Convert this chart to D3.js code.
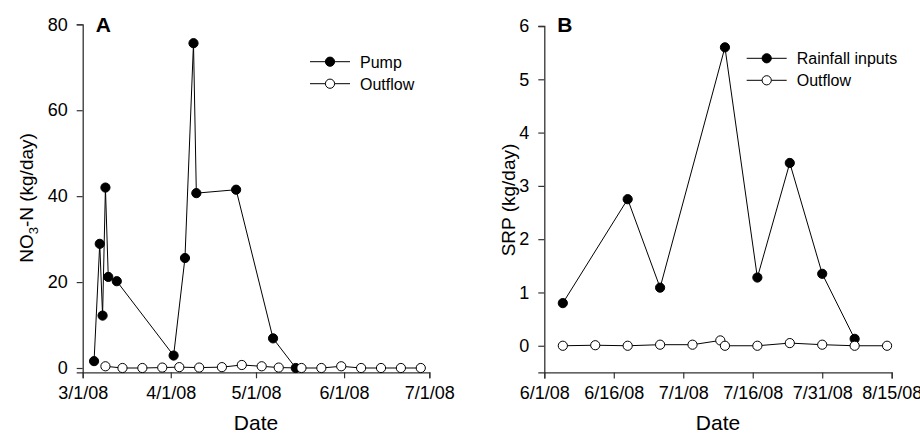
<!DOCTYPE html>
<html>
<head>
<meta charset="utf-8">
<script src="https://cdn.jsdelivr.net/npm/d3@7"></script>
<style>
body{margin:0;background:#fff;}
text{font-family:"Liberation Sans",Arial,sans-serif;fill:#000;}
</style>
</head>
<body>
<script>
// panel A: NO3-N
var pumpDates = ["3/5/08","3/7/08","3/8/08","3/9/08","3/10/08","3/13/08","4/2/08","4/6/08","4/9/08","4/10/08","4/24/08","5/7/08","5/15/08"];
var pumpVals = [1.6,28.9,12.2,42.0,21.2,20.2,2.9,25.6,75.6,40.7,41.5,6.9,0];
var outADates = ["3/9/08","3/15/08","3/22/08","3/29/08","4/4/08","4/11/08","4/19/08","4/26/08","5/3/08","5/9/08","5/17/08","5/24/08","5/31/08","6/7/08","6/14/08","6/21/08","6/28/08"];
var outAVals = [0.4,0,0,0.1,0.2,0.1,0.2,0.7,0.4,0.1,0,0,0.4,0,0,0,0];
var ticksA = ["3/1/08","4/1/08","5/1/08","6/1/08","7/1/08"];
var yTicksA = [0,20,40,60,80];

// panel B: SRP
var rainDates = ["6/5/08","6/19/08","6/26/08","7/10/08","7/17/08","7/24/08","7/31/08","8/7/08"];
var rainVals = [0.80,2.75,1.09,5.6,1.28,3.43,1.35,0.13];
var outBDates = ["6/5/08","6/12/08","6/19/08","6/26/08","7/3/08","7/9/08","7/10/08","7/17/08","7/24/08","7/31/08","8/7/08","8/14/08"];
var outBVals = [0,0.01,0,0.02,0.02,0.1,0,0,0.05,0.02,0,0];
var ticksB = ["6/1/08","6/16/08","7/1/08","7/16/08","7/31/08","8/15/08"];
var yTicksB = [0,1,2,3,4,5,6];

var parse = d3.timeParse("%m/%d/%y");
var fmt = d3.timeFormat("%-m/%-d/%y");

var svg = d3.select("body").append("svg").attr("width",920).attr("height",434);

function zip(ds,vs){ return ds.map(function(d,i){ return {date:parse(d), v:vs[i]}; }); }

function panel(o){
    var x = d3.scaleTime().domain([parse(o.xt[0]), parse(o.xt[o.xt.length-1])]).range([o.x0,o.x1]);
    var y = d3.scaleLinear().domain(o.yd).range([o.y1,o.y0]);
    var g = svg.append("g");

    var xa = g.append("g").attr("transform","translate(0,"+o.y1+")")
      .call(d3.axisBottom(x).tickValues(o.xt.map(parse)).tickFormat(fmt).tickSizeOuter(0).tickSize(6).tickPadding(8));
    var ya = g.append("g").attr("transform","translate("+o.x0+",0)")
      .call(d3.axisLeft(y).tickValues(o.yt).tickFormat(d3.format("d")).tickSizeOuter(0).tickSize(6).tickPadding(9));
    [xa,ya].forEach(function(a){
        a.select(".domain").attr("stroke","#333").attr("stroke-width",1.3);
        a.selectAll(".tick line").attr("stroke","#333").attr("stroke-width",1.2);
        a.selectAll("text").style("font-size","18px").attr("fill","#000");
    });

    var line = d3.line().x(function(d){return x(d.date);}).y(function(d){return y(d.v);});
    o.series.forEach(function(s){
        g.append("path").datum(s.data).attr("d",line).attr("fill","none").attr("stroke","#000").attr("stroke-width",1);
        g.selectAll(null).data(s.data).enter().append("circle")
          .attr("cx",function(d){return x(d.date);})
          .attr("cy",function(d){return y(d.v);})
          .attr("r",4.6)
          .attr("fill",s.fill).attr("stroke","#000").attr("stroke-width",1);
    });

    g.append("text").attr("x",(o.x0+o.x1)/2).attr("y",430).attr("text-anchor","middle")
      .style("font-size","21px").text("Date");
    g.append("text").attr("x",o.x0+13).attr("y",32).style("font-size","21px").style("font-weight","bold").text(o.letter);

    // legend
    o.series.forEach(function(s,i){
        var ly = o.ly + i*22;
        g.append("line").attr("x1",o.lx).attr("x2",o.lx+40).attr("y1",ly).attr("y2",ly).attr("stroke","#000");
        g.append("circle").attr("cx",o.lx+20).attr("cy",ly).attr("r",4.6).attr("fill",s.fill).attr("stroke","#000");
        g.append("text").attr("x",o.lx+50).attr("y",ly+6).style("font-size","16px").text(s.name);
    });
    return g;
}

var gA = panel({x0:82.7,x1:429.3,y0:24.3,y1:372.3,yd:[-1,80],xt:ticksA,yt:yTicksA,letter:"A",lx:310,ly:61.7,
  series:[{name:"Pump",fill:"#000",data:zip(pumpDates,pumpVals)},{name:"Outflow",fill:"#fff",data:zip(outADates,outAVals)}]});
var gB = panel({x0:544.3,x1:891.7,y0:26,y1:372.4,yd:[-0.5,6],xt:ticksB,yt:yTicksB,letter:"B",lx:746.7,ly:58.3,
  series:[{name:"Rainfall inputs",fill:"#000",data:zip(rainDates,rainVals)},{name:"Outflow",fill:"#fff",data:zip(outBDates,outBVals)}]});

// y titles
var tA = gA.append("text").attr("transform","translate(33,198) rotate(-90)").attr("text-anchor","middle").style("font-size","19px");
tA.append("tspan").text("NO");
tA.append("tspan").attr("dy",5).style("font-size","13px").text("3");
tA.append("tspan").attr("dy",-5).text("-N (kg/day)");
gB.append("text").attr("transform","translate(515,200) rotate(-90)").attr("text-anchor","middle").style("font-size","19px").text("SRP (kg/day)");
</script>
</body>
</html>
